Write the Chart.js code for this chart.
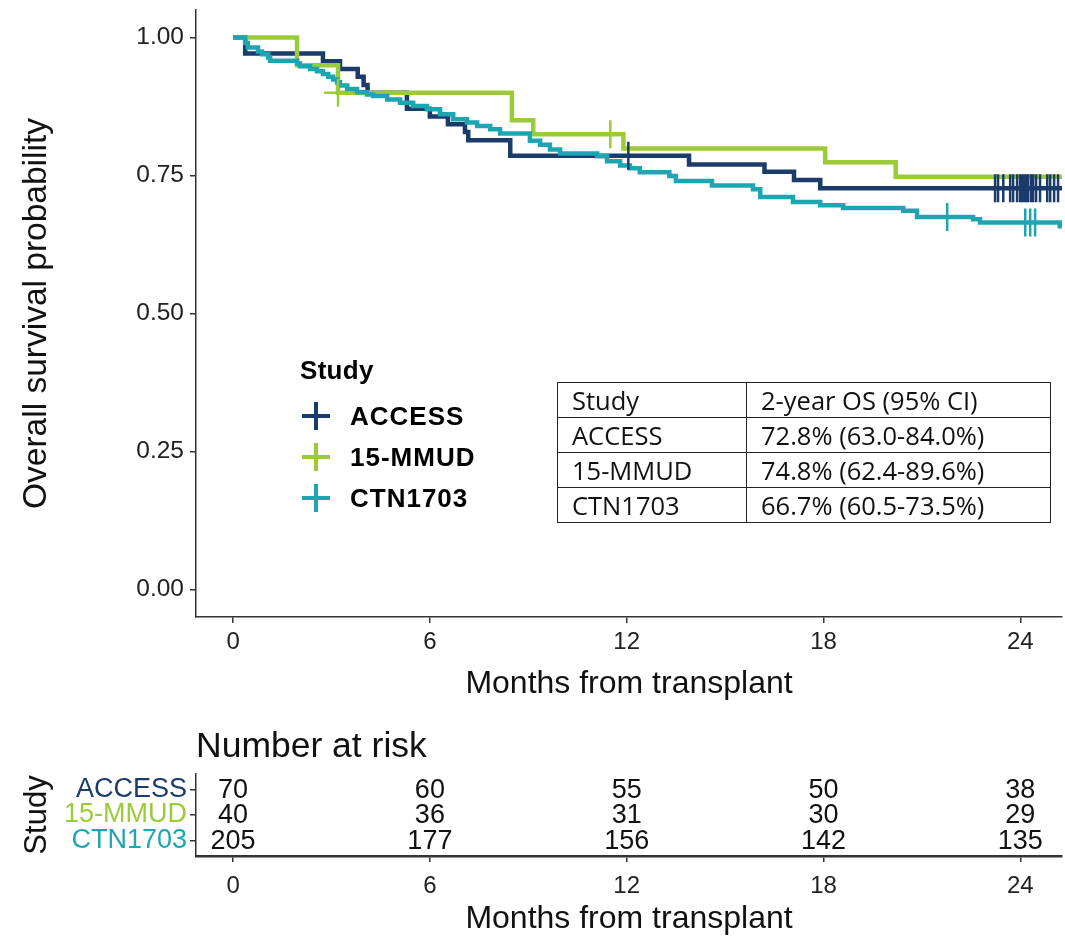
<!DOCTYPE html>
<html>
<head>
<meta charset="utf-8">
<script src="https://cdn.jsdelivr.net/npm/chart.js@4.4.1/dist/chart.umd.min.js"></script>
<style>
  html, body { margin: 0; padding: 0; background: #fff; }
  #wrap { position: relative; width: 1065px; height: 938px; overflow: hidden; font-family: "Liberation Sans", Arial, sans-serif; }
  #km { position: absolute; left: 0; top: 0; }
  #risk { position: absolute; left: 0; top: 710px; }
  .legend { position: absolute; left: 300px; top: 352px; color: #000; font-weight: bold; font-size: 26px; }
  .legend .ttl { height: 44px; line-height: 36px; letter-spacing: 0.3px; }
  .legend .item { position: relative; height: 41px; line-height: 41px; padding-left: 50px; letter-spacing: 1px; }
  .legend .cross { position: absolute; left: 2px; top: 6px; width: 28px; height: 28px; }
  .legend .cross::before, .legend .cross::after { content: ""; position: absolute; background: var(--c); }
  .legend .cross::before { left: 0; top: 12px; width: 28px; height: 4px; }
  .legend .cross::after { left: 12px; top: 0; width: 4px; height: 28px; }
  table.os { position: absolute; left: 557px; top: 382px; border-collapse: collapse; font-family: "Open Sans", "Noto Sans", sans-serif; font-size: 25.5px; color: #111; }
  table.os td { border: 1.5px solid #222; height: 34px; padding: 0 0 0 14px; line-height: 34px; white-space: nowrap; }
  table.os td.c1 { width: 174px; }
  table.os td.c2 { width: 289px; }
</style>
</head>
<body>
<div id="wrap">
  <canvas id="km" width="1065" height="710"></canvas>
  <canvas id="risk" width="1065" height="228"></canvas>
  <div class="legend" id="legend"></div>
  <table class="os" id="osTable"></table>
</div>
<script>
// Study labels and colours
const studies = ["ACCESS", "15-MMUD", "CTN1703"];
const studyColors = ["#1b3b6b", "#9ccb3a", "#1ea5b2"];

// Kaplan–Meier estimates: event times (months) and survival after each step
const accessTime = [0, 0.37, 2.74, 3.26, 3.80, 3.98, 4.10, 5.30, 6.00, 6.55, 7.07, 7.17, 8.45, 13.90, 16.20, 17.10, 17.90, 25.5];
const accessSurv = [1, 0.971, 0.957, 0.943, 0.929, 0.914, 0.900, 0.871, 0.857, 0.843, 0.829, 0.814, 0.786, 0.770, 0.757, 0.742, 0.727, 0.727];

const mmudTime = [0, 1.95, 3.20, 8.50, 9.15, 11.90, 18.05, 20.20, 25.5];
const mmudSurv = [1, 0.950, 0.900, 0.850, 0.825, 0.799, 0.774, 0.748, 0.748];

const ctnTime = [0, 0.37, 0.45, 0.76, 0.88, 1.07, 1.13, 1.95, 2.04, 2.35, 2.56, 2.74, 2.90, 3.05, 3.17, 3.26, 3.48, 3.78,
  4.08, 4.27, 4.70, 5.09, 5.49, 5.91, 6.31, 6.71, 7.13, 7.44, 7.84, 8.14, 9.05, 9.36, 9.66, 9.97, 11.10, 11.40, 11.80,
  12.10, 12.40, 13.30, 13.50, 14.60, 15.85, 16.07, 17.07, 17.90, 18.60, 20.43, 20.85, 22.56, 22.77, 25.20, 25.5];
const ctnSurv = [1, 0.990, 0.982, 0.975, 0.970, 0.964, 0.958, 0.953, 0.948, 0.943, 0.939, 0.934, 0.929, 0.924, 0.919, 0.913, 0.907, 0.901,
  0.897, 0.894, 0.888, 0.882, 0.876, 0.870, 0.861, 0.852, 0.846, 0.840, 0.834, 0.826, 0.813, 0.806, 0.797, 0.790, 0.785, 0.776, 0.768,
  0.763, 0.756, 0.749, 0.740, 0.732, 0.725, 0.711, 0.702, 0.696, 0.691, 0.686, 0.675, 0.671, 0.665, 0.658, 0.658];

// Censoring times (months)
const accessCensor = [12.05, 23.23, 23.32, 23.48, 23.69, 23.78, 23.90, 23.99, 24.05, 24.12, 24.18, 24.24, 24.33, 24.39, 24.48, 24.60, 24.82, 24.91, 25.03, 25.15];
const mmudCensor = [3.20, 11.50];
const ctnCensor = [21.77, 24.15, 24.30, 24.45];

// Axis ticks
const monthTicks = [0, 6, 12, 18, 24];
const survTicks = [0, 0.25, 0.5, 0.75, 1.0];

// Number at risk at each month tick
const accessRisk = [70, 60, 55, 50, 38];
const mmudRisk = [40, 36, 31, 30, 29];
const ctnRisk = [205, 177, 156, 142, 135];

// 2-year overall survival summary
const osHeader = ["Study", "2-year OS (95% CI)"];
const osValues = ["72.8% (63.0-84.0%)", "74.8% (62.4-89.6%)", "66.7% (60.5-73.5%)"];

const X_MIN = -1.13, X_MAX = 25.27;

Chart.defaults.font.family = '"Liberation Sans", Arial, sans-serif';
Chart.defaults.color = '#222';

const curves = [
  [accessTime, accessSurv, accessCensor],
  [mmudTime, mmudSurv, mmudCensor],
  [ctnTime, ctnSurv, ctnCensor]
];

function survAt(times, survs, t) {
  let s = survs[0];
  for (let i = 0; i < times.length; i++) { if (times[i] <= t) s = survs[i]; }
  return s;
}

const datasets = [];
curves.forEach(([times, survs], i) => {
  datasets.push({
    label: studies[i],
    data: times.map((t, k) => ({ x: t, y: survs[k] })),
    showLine: true, stepped: true, pointRadius: 0,
    borderColor: studyColors[i], borderWidth: 4.5, fill: false,
    order: 6 - i
  });
});
curves.forEach(([times, survs, cens], i) => {
  datasets.push({
    label: studies[i] + ' censored',
    data: cens.map(t => ({ x: t, y: survAt(times, survs, t) })),
    showLine: false, pointStyle: 'cross', pointRadius: 14,
    borderColor: studyColors[i], borderWidth: 2.5,
    order: 3 - i
  });
});

const axisColor = '#333';

// keep the plotting area exactly where the layout puts it (no label overflow padding)
const noPadX = (h) => s => { s.height = h; s.paddingLeft = 0; s.paddingRight = 0; };
const noPadY = (w) => s => { s.width = w; s.paddingTop = 0; s.paddingBottom = 0; };

new Chart(document.getElementById('km'), {
  type: 'scatter',
  data: { datasets },
  options: {
    responsive: false, animation: false,
    layout: { autoPadding: false, padding: { top: 10, right: 3, left: 0, bottom: 0 } },
    plugins: { legend: { display: false }, tooltip: { enabled: false } },
    scales: {
      x: {
        type: 'linear', min: X_MIN, max: X_MAX,
        afterBuildTicks: s => { s.ticks = monthTicks.map(v => ({ value: v })); },
        afterFit: noPadX(93),
        ticks: { font: { size: 24 }, color: '#222', padding: 5, maxRotation: 0, autoSkip: false },
        grid: { drawOnChartArea: false, drawTicks: true, tickLength: 6, color: axisColor, lineWidth: 1.5 },
        border: { display: true, color: axisColor, width: 1.5 },
        title: { display: true, text: 'Months from transplant', font: { size: 32 }, color: '#111', padding: { top: 0, bottom: 7 } }
      },
      y: {
        type: 'linear', min: -0.05, max: 1.05,
        afterBuildTicks: s => { s.ticks = survTicks.map(v => ({ value: v })); },
        afterFit: noPadY(196),
        ticks: { font: { size: 24.5 }, color: '#222', padding: 6, callback: v => v.toFixed(2) },
        grid: { drawOnChartArea: false, drawTicks: true, tickLength: 6, color: axisColor, lineWidth: 1.5 },
        border: { display: true, color: axisColor, width: 1.5 },
        title: { display: true, text: 'Overall survival probability', font: { size: 33.5 }, color: '#111', padding: { top: 17 } }
      }
    }
  }
});

// Number-at-risk table: each row is a study, each column a month tick
const riskRows = [accessRisk, mmudRisk, ctnRisk];
const riskDatasets = riskRows.map((row, i) => ({
  label: studies[i],
  data: monthTicks.map((t, k) => ({ x: t, y: 3 - i, n: row[k] })),
  pointRadius: 0, showLine: false
}));

const riskLabels = {
  id: 'riskLabels',
  afterDatasetsDraw(chart) {
    const ctx = chart.ctx;
    ctx.save();
    ctx.font = '27px "Liberation Sans", Arial, sans-serif';
    ctx.fillStyle = '#111';
    ctx.textAlign = 'center';
    ctx.textBaseline = 'middle';
    chart.data.datasets.forEach((ds, i) => {
      const meta = chart.getDatasetMeta(i);
      meta.data.forEach((pt, k) => ctx.fillText(String(ds.data[k].n), pt.x, pt.y + 1));
    });
    ctx.font = '35.5px "Liberation Sans", Arial, sans-serif';
    ctx.textAlign = 'left';
    ctx.fillText('Number at risk', chart.chartArea.left, 37);
    ctx.restore();
  }
};

new Chart(document.getElementById('risk'), {
  type: 'scatter',
  data: { datasets: riskDatasets },
  options: {
    responsive: false, animation: false,
    layout: { autoPadding: false, padding: { top: 64, right: 3, left: 0, bottom: 0 } },
    plugins: { legend: { display: false }, tooltip: { enabled: false } },
    scales: {
      x: {
        type: 'linear', min: X_MIN, max: X_MAX,
        afterBuildTicks: s => { s.ticks = monthTicks.map(v => ({ value: v })); },
        afterFit: noPadX(82),
        ticks: { font: { size: 24 }, color: '#222', padding: 10, maxRotation: 0, autoSkip: false },
        grid: { drawOnChartArea: false, drawTicks: true, tickLength: 6, color: axisColor, lineWidth: 1.5 },
        border: { display: true, color: axisColor, width: 2.5 },
        title: { display: true, text: 'Months from transplant', font: { size: 32 }, color: '#111', padding: { top: 0, bottom: 0 } }
      },
      y: {
        type: 'linear', min: 0.4, max: 3.6,
        afterBuildTicks: s => { s.ticks = [1, 2, 3].map(v => ({ value: v })); },
        afterFit: noPadY(196),
        ticks: {
          font: { size: 27 }, padding: 3,
          callback: v => studies[3 - v],
          color: ctx => studyColors[3 - ctx.tick.value]
        },
        grid: { drawOnChartArea: false, drawTicks: true, tickLength: 6, color: axisColor, lineWidth: 1.5 },
        border: { display: true, color: axisColor, width: 1.5 },
        title: { display: true, text: 'Study', font: { size: 31 }, color: '#111', padding: { top: 19 } }
      }
    }
  },
  plugins: [riskLabels]
});

// Legend
const legend = document.getElementById('legend');
legend.innerHTML = '<div class="ttl">Study</div>' + studies.map((s, i) =>
  `<div class="item"><span class="cross" style="--c:${studyColors[i]}"></span>${s}</div>`).join('');

// 2-year OS table
const tbl = document.getElementById('osTable');
const rows = [osHeader].concat(studies.map((s, i) => [s, osValues[i]]));
tbl.innerHTML = rows.map(r => `<tr><td class="c1">${r[0]}</td><td class="c2">${r[1]}</td></tr>`).join('');
</script>
</body>
</html>
